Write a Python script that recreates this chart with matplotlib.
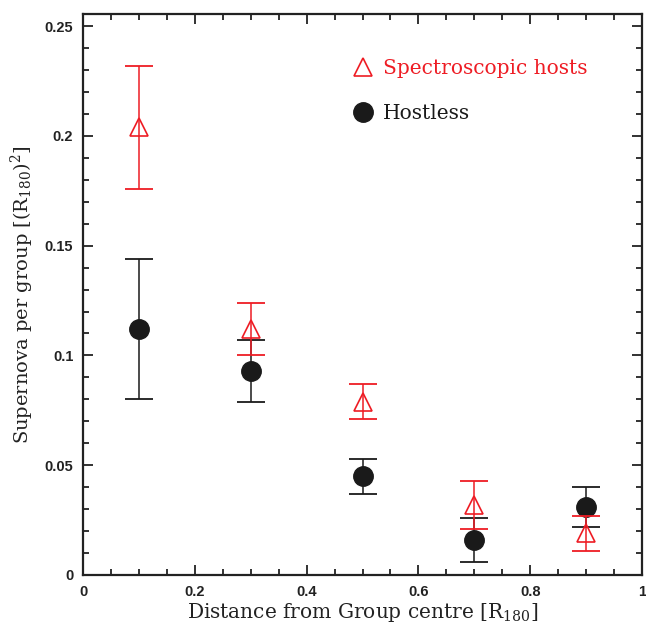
import matplotlib
matplotlib.use("Agg")
import matplotlib.pyplot as plt
from matplotlib.ticker import MultipleLocator

# Data
x = [0.1, 0.3, 0.5, 0.7, 0.9]
spec_y = [0.204, 0.112, 0.079, 0.032, 0.019]
spec_err = [0.028, 0.012, 0.008, 0.011, 0.008]
host_y = [0.112, 0.093, 0.045, 0.016, 0.031]
host_err = [0.032, 0.014, 0.008, 0.010, 0.009]

plt.rcParams['mathtext.fontset'] = 'dejavuserif'

fig = plt.figure(figsize=(6.46, 6.27), dpi=100)
ax = fig.add_axes([83/646, 52/627, 559/646, 561/627])

red = '#ee1c24'
black = '#1a1a1a'

ax.errorbar(x, host_y, yerr=host_err, fmt='none', ecolor=black, elinewidth=1.1,
            capsize=10, capthick=1.3, zorder=2)
h_host, = ax.plot(x, host_y, 'o', ms=14, color=black, ls='none', zorder=3,
                  label='Hostless')
ax.errorbar(x, spec_y, yerr=spec_err, fmt='none', ecolor=red, elinewidth=1.1,
            capsize=10, capthick=1.3, zorder=4)
h_spec, = ax.plot(x, spec_y, '^', ms=13, mfc='none', mec=red, mew=1.2,
                  ls='none', zorder=5, label='Spectroscopic hosts')

ax.set_xlim(0, 1)
ax.set_ylim(0, 0.2555)
ax.xaxis.set_minor_locator(MultipleLocator(0.05))
ax.yaxis.set_minor_locator(MultipleLocator(0.01))
ax.set_xticks([0, 0.2, 0.4, 0.6, 0.8, 1.0])
ax.set_xticklabels(['0', '0.2', '0.4', '0.6', '0.8', '1'])
ax.set_yticks([0, 0.05, 0.1, 0.15, 0.2, 0.25])
ax.set_yticklabels(['0', '0.05', '0.1', '0.15', '0.2', '0.25'])

ax.tick_params(which='both', direction='in', top=True, right=True, width=1.3,
               colors='#222222')
ax.tick_params(which='major', length=7.5, labelsize=10.5, pad=7)
ax.tick_params(which='minor', length=4)
for lab in ax.get_xticklabels() + ax.get_yticklabels():
    lab.set_fontfamily('Liberation Sans')
    lab.set_fontweight('bold')
for s in ax.spines.values():
    s.set_linewidth(1.6)
    s.set_color('#222222')

ax.set_xlabel('Distance from Group centre [R$_{180}$]', family='DejaVu Serif',
              fontsize=14.5, labelpad=2, color='#222222')
ax.set_ylabel('Supernova per group [(R$_{180}$)$^2$]', family='DejaVu Serif',
              fontsize=14, labelpad=6, color='#222222')

leg = ax.legend(handles=[h_spec, h_host], loc='upper left',
                bbox_to_anchor=(0.465, 0.937), frameon=False, borderpad=0,
                prop={'family': 'DejaVu Serif', 'size': 14.5},
                handlelength=1.0, handletextpad=0.5, labelspacing=1.25,
                labelcolor=[red, black])

fig.savefig('out.png', dpi=100)
